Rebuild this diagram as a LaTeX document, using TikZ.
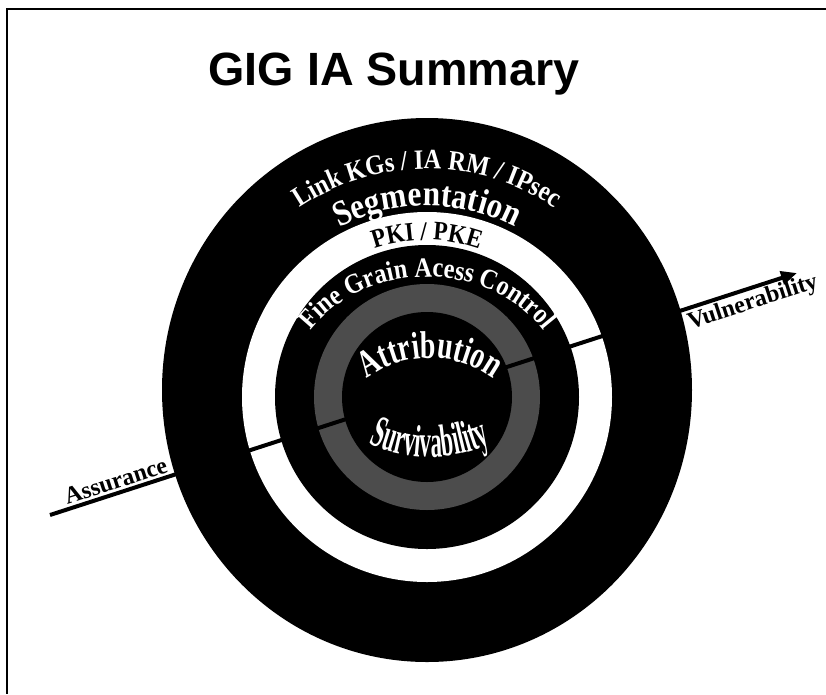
\documentclass[tikz,border=0pt]{standalone}
\usepackage{fontspec}
\setmainfont{Liberation Serif}
\newfontfamily\titlefont{Liberation Sans}
\newfontfamily\ringserif[FakeStretch=0.87]{Liberation Serif}
\newfontfamily\tallserif[FakeStretch=0.72]{Liberation Serif}
\newfontfamily\narrowserif[FakeStretch=0.5]{Liberation Serif}
\usetikzlibrary{decorations.text,arrows.meta}

% fonts of the ring texts
\newcommand\linkfont{\color{white}\ringserif\bfseries\fontsize{21pt}{21pt}\selectfont}
\newcommand\segfont{\color{white}\ringserif\bfseries\fontsize{27pt}{27pt}\selectfont}
\newcommand\pkifont{\color{black}\ringserif\bfseries\fontsize{20pt}{20pt}\selectfont}
\newcommand\finefont{\color{white}\ringserif\bfseries\fontsize{21pt}{21pt}\selectfont}
\newcommand\attrfont{\color{white}\tallserif\bfseries\fontsize{29pt}{29pt}\selectfont}
\newcommand\survfont{\color{white}\narrowserif\bfseries\fontsize{34pt}{34pt}\selectfont}

\begin{document}
\begin{tikzpicture}[x=0.75pt,y=0.75pt,
  ringtext/.style={decorate, decoration={text along path, text align=center, text={#1}}},
  axislabel/.style={font=\bfseries\fontsize{18pt}{18pt}\selectfont, sloped, inner sep=1.5pt}]
 \useasboundingbox (0,0) rectangle (826,-694);
 % frame
                \draw[line width=1.5pt] (6,-9) -- (826,-9);
                \draw[line width=1.5pt] (7,-9) -- (7,-694);
                % title
                \node[anchor=base, font=\titlefont\bfseries\fontsize{35pt}{35pt}\selectfont] (title) at (394,-85) {GIG IA Summary};
                % rings
                \coordinate (outer) at (427,-390);
                \coordinate (ctr) at (427,-397);
                \fill[black] (outer) ellipse [x radius=265, y radius=272];
                \fill[white] (ctr) circle [radius=185];
                \fill[black] (ctr) circle [radius=152];
                \fill[black!70] (ctr) circle [radius=113];
                \fill[black] (ctr) circle [radius=85];
                % assurance / vulnerability axis
                \coordinate (lo) at (50,-515);
                \coordinate (hi) at (797,-273);
                \draw[line width=3pt, -{Triangle[length=12pt,width=10pt]}] (lo) -- (hi)
                  node[axislabel, pos=0.093, above] (assur) {Assurance}
                  node[axislabel, pos=0.935, below] (vuln) {Vulnerability};
                % texts on the rings
                \path[ringtext={|\linkfont|Link KGs / IA RM / IPsec}] (ctr) ++(160:228) arc [start angle=160, end angle=20, radius=228];
                \path[ringtext={|\segfont|Segmentation}] (ctr) ++(150:191) arc [start angle=150, end angle=30, radius=191];
                \path[ringtext={|\pkifont|PKI / PKE}] (ctr) ++(140:157) arc [start angle=140, end angle=40, radius=157];
                \path[ringtext={|\finefont|Fine Grain Acess Control}] (ctr) ++(170:140 and 120) arc [start angle=170, end angle=10, x radius=140, y radius=120];
                % centre texts
                \coordinate (attrctr) at (430,-466);
                \coordinate (survctr) at (430,-311);
                \path[ringtext={|\attrfont|Attribution}] (attrctr) ++(170:108) arc [start angle=170, end angle=10, radius=108];
                \path[ringtext={|\survfont|Survivability}] (survctr) ++(235:146) arc [start angle=235, end angle=305, radius=146];
\end{tikzpicture}
\end{document}
